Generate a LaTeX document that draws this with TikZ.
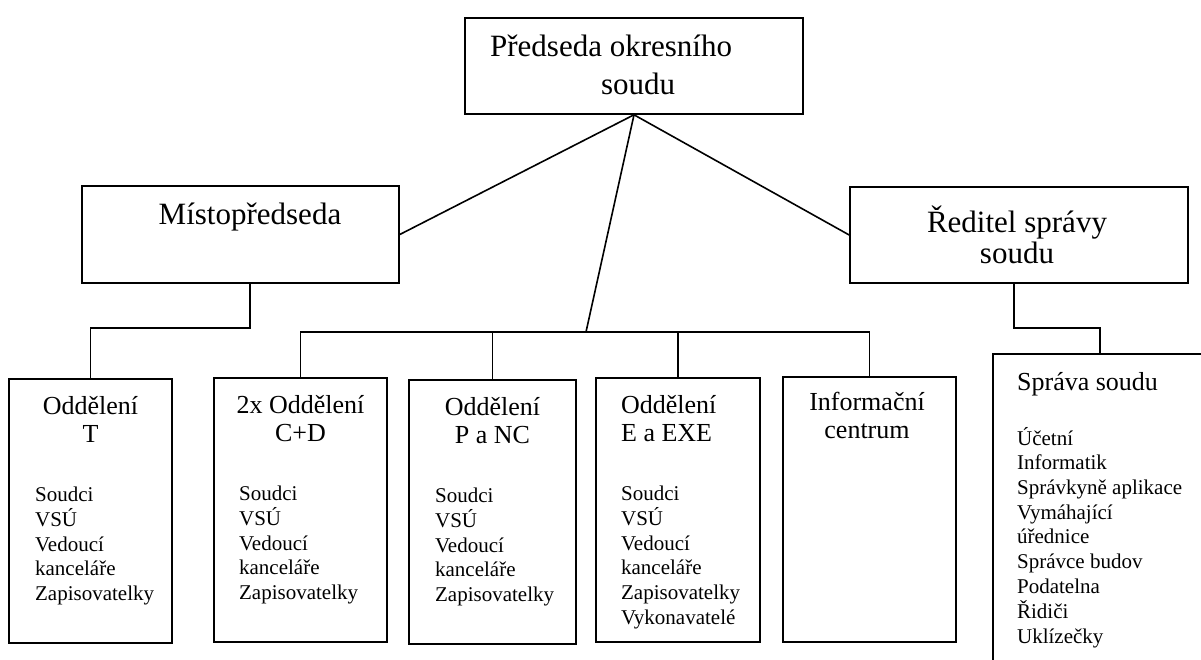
\documentclass[tikz,border=0pt]{standalone}
\usepackage{fontspec}
\setmainfont{Liberation Serif}
\newcommand{\ctab}[1]{\begin{tabular}[t]{@{}c@{}}#1\end{tabular}}
\newcommand{\ltab}[1]{\begin{tabular}[t]{@{}l@{}}#1\end{tabular}}
\begin{document}
\begin{tikzpicture}[x=1pt,y=-1pt,line width=1.6pt,
    box/.style={draw, inner sep=0pt},
    big/.style={anchor=base, font=\fontsize{31}{35}\selectfont},
    head/.style={anchor=base, font=\fontsize{26}{28.5}\selectfont},
    staff/.style={anchor=base west, font=\fontsize{21}{24.7}\selectfont}]
  \useasboundingbox (0,0) rectangle (1201,660);
  \clip (0,0) rectangle (1201,660);
  % vedeni
  \node[box, minimum width=338pt, minimum height=96pt] (pred) at (634,66) {};
  \node[box, minimum width=317pt, minimum height=97pt] (misto) at (240.5,234.5) {};
  \node[box, minimum width=338pt, minimum height=96pt] (reditel) at (1019,235) {};
  % oddeleni
  \node[box, minimum width=163pt, minimum height=264pt] (oT) at (90.5,511) {};
  \node[box, minimum width=173pt, minimum height=264pt] (oCD) at (300.5,510) {};
  \node[box, minimum width=167pt, minimum height=264pt] (oP) at (492.5,512) {};
  \node[box, minimum width=164pt, minimum height=264pt] (oE) at (678,510) {};
  \node[box, minimum width=173pt, minimum height=265pt] (info) at (869.5,509.5) {};
  \node[box, minimum width=214pt, minimum height=346pt] (sprava) at (1100,527) {};
  % texty
  \node[big, anchor=base west, font=\fontsize{31}{38}\selectfont] (tPred) at (486,57)
    {\ltab{Předseda okresního\\\hspace*{111pt}soudu}};
  \node[big] (tMisto) at (250,225) {Místopředseda};
  \node[big, font=\fontsize{31}{31}\selectfont] (tRed) at (1017,233) {\ctab{Ředitel správy\\soudu}};
  \node[head] (hT) at (90.5,414) {\ctab{Oddělení\\T}};
  \node[head] (hCD) at (300.5,413) {\ctab{2x Oddělení\\C+D}};
  \node[head] (hP) at (492.5,415) {\ctab{Oddělení\\P a NC}};
  \node[head, anchor=base west] (hE) at (617,413) {\ltab{Oddělení\\E a EXE}};
  \node[head] (hInfo) at (867,410) {\ctab{Informační\\centrum}};
  \node[head, anchor=base west] (hSpr) at (1013,390) {Správa soudu};
  \node[staff] (sT) at (31,501) {\ltab{Soudci\\VSÚ\\Vedoucí\\kanceláře\\Zapisovatelky}};
  \node[staff] (sCD) at (235,500) {\ltab{Soudci\\VSÚ\\Vedoucí\\kanceláře\\Zapisovatelky}};
  \node[staff] (sP) at (431,502) {\ltab{Soudci\\VSÚ\\Vedoucí\\kanceláře\\Zapisovatelky}};
  \node[staff] (sE) at (617,500) {\ltab{Soudci\\VSÚ\\Vedoucí\\kanceláře\\Zapisovatelky\\Vykonavatelé}};
  \node[staff] (sSpr) at (1013,445) {\ltab{Účetní\\Informatik\\Správkyně aplikace\\Vymáhající\\úřednice\\Správce budov\\Podatelna\\Řidiči\\Uklízečky}};
  % spojnice
  \coordinate (bar) at (586,332);
  \coordinate (mT) at (250,328);
  \coordinate (rS) at (1014,328);
  \draw (pred.south) -- (misto.east);
  \draw (pred.south) -- (reditel.west);
  \draw (pred.south) -- (bar);
  \draw (oCD.north) |- (bar) -| (info.north);
  \draw (oP.north) -- (oP.north |- bar);
  \draw (oE.north) -- (oE.north |- bar);
  \draw (misto.south -| mT) -- (mT) -| (oT.north);
  \draw (reditel.south -| rS) -- (rS) -| (sprava.north);
\end{tikzpicture}
\end{document}
